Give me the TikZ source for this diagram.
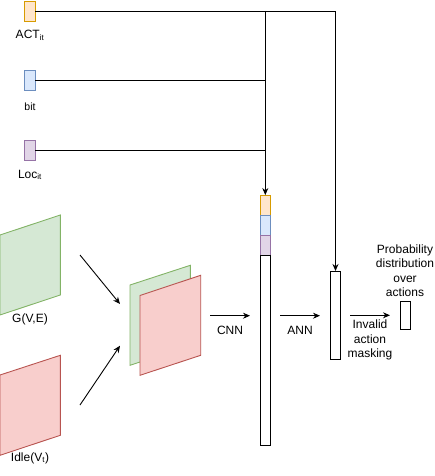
\documentclass[tikz,border=0pt]{standalone}
\usepackage{fontspec}
\setmainfont{Liberation Sans}
\usetikzlibrary{arrows.meta}
\definecolor{gfill}{HTML}{D5E8D4}\definecolor{gline}{HTML}{82B366}
\definecolor{rfill}{HTML}{F8CECC}\definecolor{rline}{HTML}{B85450}
\definecolor{ofill}{HTML}{FFE6CC}\definecolor{oline}{HTML}{D79B00}
\definecolor{bfill}{HTML}{DAE8FC}\definecolor{bline}{HTML}{6C8EBF}
\definecolor{pfill}{HTML}{E1D5E7}\definecolor{pline}{HTML}{9673A6}
\begin{document}
\begin{tikzpicture}[x=1pt,y=-1pt,
  line width=0.9pt,
  cell/.style={draw,minimum width=10.5pt,inner sep=0pt,outer sep=0pt},
  lbl/.style={font=\fontsize{12}{14.4}\selectfont,inner sep=0pt,align=center},
  arr/.style={-{Stealth[length=7pt,width=6pt]}}]
\useasboundingbox (0,0) rectangle (435,476);
% inputs
\node[cell,fill=ofill,draw=oline,minimum height=20pt] (act) at (30,11) {};
\node[cell,fill=bfill,draw=bline,minimum height=20.5pt] (bit) at (30,80.5) {};
\node[cell,fill=pfill,draw=pline,minimum height=20.5pt] (loc) at (30,150.3) {};
\node[lbl] (actl) at (30,35) {ACT\textsubscript{it}};
\node[lbl,font=\fontsize{10.5}{12}\selectfont] (bitl) at (30,107) {bit};
\node[lbl] (locl) at (30,175) {Loc\textsubscript{it}};
% column
\node[cell,fill=ofill,draw=oline,minimum height=20.3pt] (c1) at (265.3,205.2) {};
\node[cell,fill=bfill,draw=bline,minimum height=20.3pt] (c2) at (265.3,225.5) {};
\node[cell,fill=pfill,draw=pline,minimum height=20.3pt] (c3) at (265.3,245.8) {};
\node[cell,fill=white,minimum height=190pt] (c4) at (265.3,350.8) {};
% ann output
\node[cell,minimum height=88pt] (ann) at (335.5,315) {};
\node[cell,minimum height=28.7pt] (out) at (405.3,315.3) {};
% junctions
\coordinate (j1) at (265.3,11);
\coordinate (j2) at (335.5,11);
\draw (act.east) -- (j1);
\draw[arr] (j1) -- (j2) -- (ann.north);
\draw[arr] (j1) -- (c1.north);
\draw (bit.east) -- (bit.east -| j1);
\draw (loc.east) -- (loc.east -| j1);
% planes
\draw[fill=gfill,draw=gline] (0,235) -- (60.3,215) -- (60.3,295) -- (0,315) -- cycle;
\draw[fill=rfill,draw=rline] (0,375) -- (60.3,355.3) -- (60.3,435.3) -- (0,455.3) -- cycle;
\node[lbl] (gl) at (30,319.5) {G(V,E)};
\node[lbl] (il) at (30,458) {Idle(V\textsubscript{t})};
\draw[fill=gfill,draw=gline] (130,285) -- (190.3,265.3) -- (190.3,345.3) -- (130,365.3) -- cycle;
\draw[fill=rfill,draw=rline] (140,295.5) -- (200.7,275.3) -- (200.7,355.3) -- (140,375.3) -- cycle;
\coordinate (a1s) at (80,255); \coordinate (a1e) at (120,304);
\coordinate (a2s) at (80,405); \coordinate (a2e) at (120,345.7);
\draw[arr] (a1s) -- (a1e);
\draw[arr] (a2s) -- (a2e);
% arrows and labels
\coordinate (cnns) at (210,315.7); \coordinate (cnne) at (250,315.7);
\coordinate (anns) at (280,315.7); \coordinate (anne) at (320,315.7);
\coordinate (msks) at (350,315.3); \coordinate (mske) at (390,315.3);
\draw[arr] (cnns) -- (cnne);
\draw[arr] (anns) -- (anne);
\draw[arr] (msks) -- (mske);
\node[lbl] (cnnl) at (230,330) {CNN};
\node[lbl] (annl) at (300,330) {ANN};
\node[lbl] (mskl) at (370,340) {Invalid\\action\\masking};
\node[lbl] (prl) at (405,270.8) {Probability\\distribution\\over\\actions};
\end{tikzpicture}
\end{document}
